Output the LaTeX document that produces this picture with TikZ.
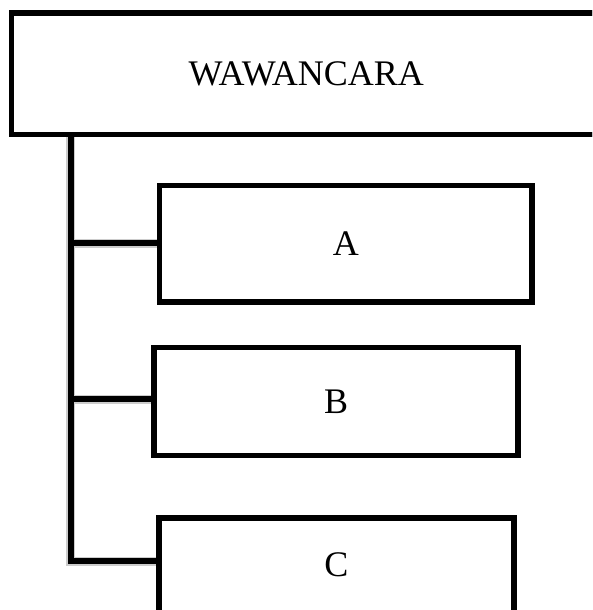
\documentclass[tikz,border=0pt]{standalone}
\usepackage{fontspec}
\setmainfont{Liberation Serif}
\begin{document}
\begin{tikzpicture}[x=1pt,y=-1pt,
  boxstyle/.style={draw=black,line width=5.5pt,fill=white,inner sep=0pt,outer sep=0pt,
    font=\fontsize{36}{43}\selectfont,line join=miter},
  wire/.style={draw=black,line width=5.5pt,line join=miter},
  wireshadow/.style={draw=black!20,line width=9pt,line join=miter}]
\useasboundingbox (0,0) rectangle (592,610);
\clip (0,0) rectangle (592,610);
\fill[white] (0,0) rectangle (592,610);
% nodes
\node[boxstyle,minimum width=589.5pt,minimum height=121.5pt] (W) at (306.25,73.75) {WAWANCARA};
\node[boxstyle,minimum width=372.5pt,minimum height=116.5pt] (A) at (345.75,243.75) {A};
\node[boxstyle,minimum width=364pt,minimum height=108pt] (B) at (336.2,401.7) {B};
\node[boxstyle,minimum width=355pt,minimum height=130pt] (C) at (336.7,583.2) {};
\node[font=\fontsize{36}{43}\selectfont,inner sep=0pt] (Ct) at (336.5,564.3) {C};
% trunk coordinates
\coordinate (tb) at (70.8,561);
\coordinate (ya) at (70.8,243);
\coordinate (yb) at (70.8,399.2);
% shadows
\begin{scope}[xshift=-2pt,yshift=-2.5pt]
\draw[wireshadow] (W.south -| tb) -- (tb) -- (tb -| C.west);
\draw[wireshadow] (ya) -- (ya -| A.west);
\draw[wireshadow] (yb) -- (yb -| B.west);
\end{scope}
% connectors
\draw[wire] (W.south -| tb) -- (tb) -- (tb -| C.west);
\draw[wire] (ya) -- (ya -| A.west);
\draw[wire] (yb) -- (yb -| B.west);
% redraw boxes on top of shadows
\node[boxstyle,minimum width=589.5pt,minimum height=121.5pt] at (W) {WAWANCARA};
\node[boxstyle,minimum width=372.5pt,minimum height=116.5pt] at (A) {A};
\node[boxstyle,minimum width=364pt,minimum height=108pt] at (B) {B};
\node[boxstyle,minimum width=355pt,minimum height=130pt] at (C) {};
\node[font=\fontsize{36}{43}\selectfont,inner sep=0pt] at (Ct) {C};
\end{tikzpicture}
\end{document}
